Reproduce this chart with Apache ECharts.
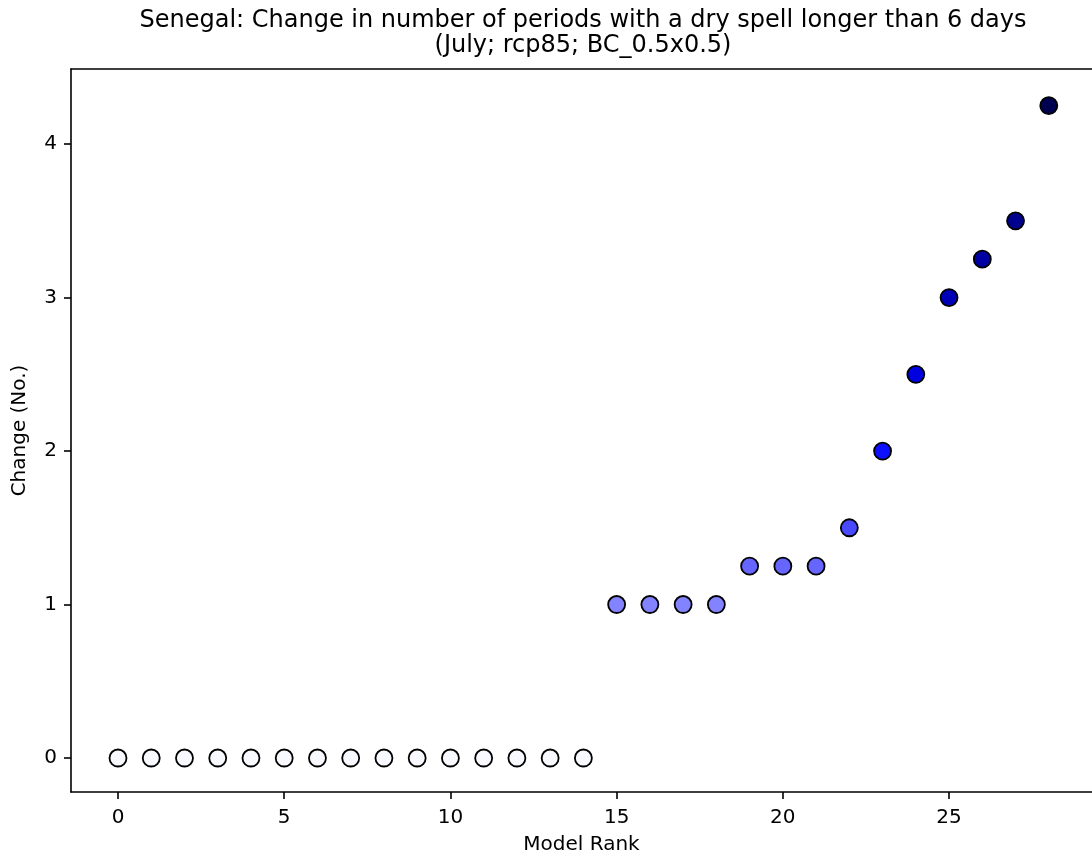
<!DOCTYPE html>
<html><head><meta charset="utf-8">
<script src="https://cdn.jsdelivr.net/npm/echarts@6/dist/echarts.min.js"></script>
<style>html,body{margin:0;padding:0;background:#fff}#c{width:1092px;height:859px}</style>
</head><body><div id="c"></div>
<script>
var modelRank = [0,1,2,3,4,5,6,7,8,9,10,11,12,13,14,15,16,17,18,19,20,21,22,23,24,25,26,27,28];
var changeValues = [0,0,0,0,0,0,0,0,0,0,0,0,0,0,0,1,1,1,1,1.25,1.25,1.25,1.5,2,2.5,3,3.25,3.5,4.25];
var xTicks = [0,5,10,15,20,25];
var yTicks = [0,1,2,3,4];
var titleLines = ['Senegal: Change in number of periods with a dry spell longer than 6 days','(July; rcp85; BC_0.5x0.5)'];

var pts = modelRank.map(function(x,i){return [x, changeValues[i]];});
var font = 'DejaVu Sans';
var chart = echarts.init(document.getElementById('c'), null, {renderer:'canvas'});
chart.setOption({
  animation:false,
  backgroundColor:'#fff',
  graphic:titleLines.map(function(t,i){
    return {type:'text', x:583, y:21 + i*24.5, style:{text:t, fontFamily:font, fontSize:24, fill:'#000',
      textAlign:'center', textVerticalAlign:'middle'}};
  }),
  grid:{left:71, top:69, right:0, bottom:67, show:false, containLabel:false, outerBoundsMode:'none'},
  visualMap:{show:false, type:'continuous', min:0, max:4.25, dimension:1, seriesIndex:0,
    inRange:{color:['#f8f8ff','#0000ff','#000050']}},
  xAxis:[{type:'value', min:-1.414, max:29.3, name:'Model Rank', nameLocation:'middle', nameGap:43,
    nameTextStyle:{fontFamily:font, fontSize:20, color:'#000'},
    splitLine:{show:false},
    axisLine:{show:true, onZero:false, lineStyle:{color:'#000', width:1.6}},
    axisTick:{show:true, length:7, customValues:xTicks, lineStyle:{color:'#000', width:1.6}},
    axisLabel:{customValues:xTicks, fontFamily:font, fontSize:20, color:'#000', margin:16}},
   {type:'value', position:'top', min:-1.414, max:29.3,
    splitLine:{show:false}, axisTick:{show:false}, axisLabel:{show:false},
    axisLine:{show:true, onZero:false, lineStyle:{color:'#000', width:1.6}}}],
  yAxis:{type:'value', min:-0.2215, max:4.489, name:'Change (No.)', nameLocation:'middle', nameGap:41, nameRotate:90,
    nameTextStyle:{fontFamily:font, fontSize:20, color:'#000'},
    splitLine:{show:false},
    axisLine:{show:true, onZero:false, lineStyle:{color:'#000', width:1.6}},
    axisTick:{show:true, length:7, customValues:yTicks, lineStyle:{color:'#000', width:1.6}},
    axisLabel:{customValues:yTicks, fontFamily:font, fontSize:20, color:'#000', margin:14}},
  series:[{type:'scatter', data:pts, symbol:'circle', symbolSize:17, xAxisIndex:0,
    itemStyle:{borderColor:'#000', borderWidth:1.8, opacity:1}}]
});
</script></body></html>
